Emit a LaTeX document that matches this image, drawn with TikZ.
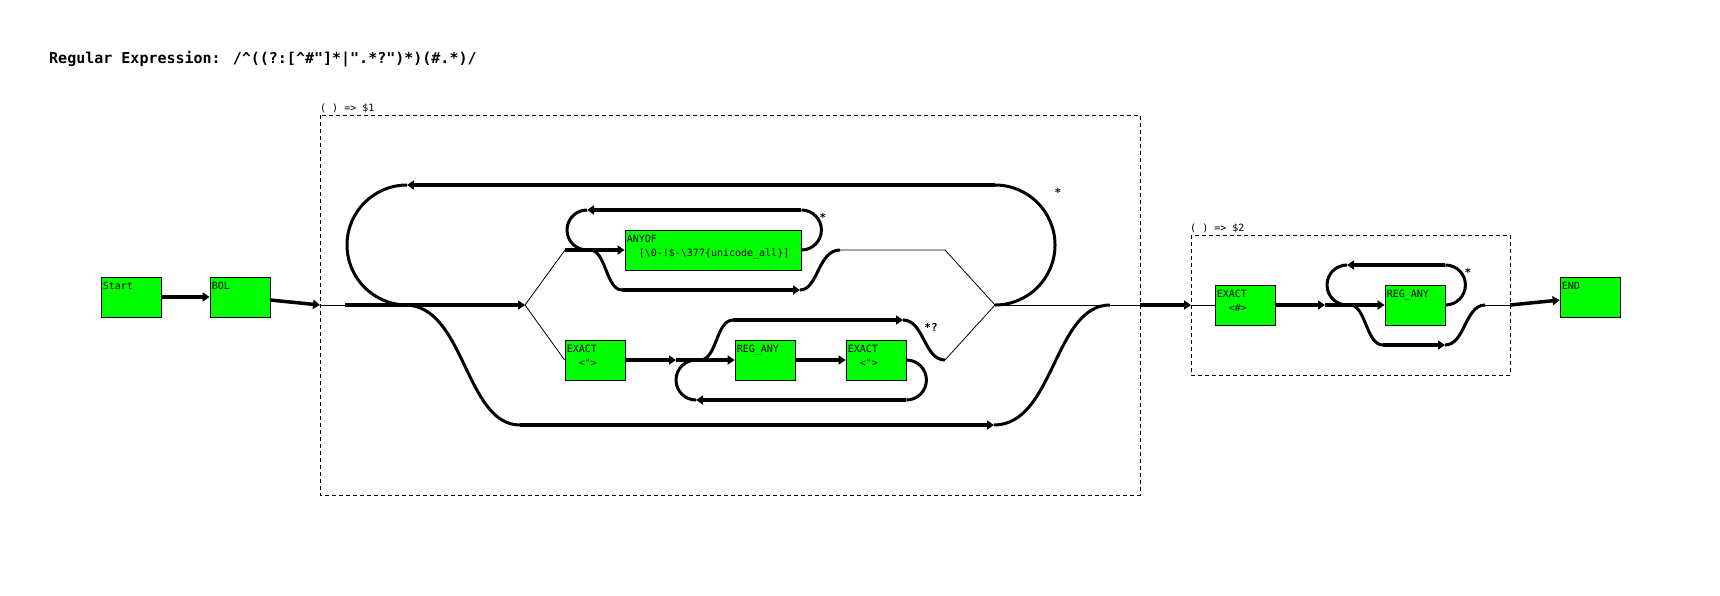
\documentclass[tikz,border=0pt]{standalone}
\usepackage{fontspec}
\newfontfamily\rxmono{DejaVu Sans Mono}
\usepackage{tikz}
\usetikzlibrary{arrows.meta}
\definecolor{rxgreen}{RGB}{0,255,0}

\begin{document}
\begin{tikzpicture}[
    x=1pt, y=1pt,
    >={Triangle[length=7pt,width=9pt]},
    rxbox/.style={draw, fill=rxgreen, line width=0.8pt, minimum width=60pt, minimum height=40pt, inner sep=0pt},
    rxtext/.style={anchor=north west, inner sep=0pt, align=left, xshift=2pt, yshift=-5.5pt, font=\rxmono\fontsize{10}{14}\selectfont},
    thickedge/.style={line width=3.5pt},
    curveedge/.style={line width=3pt},
    thinedge/.style={line width=0.8pt},
    groupbox/.style={draw, dash pattern=on 4pt off 3pt, line width=0.8pt},
    grouplabel/.style={anchor=base west, inner sep=0pt, font=\rxmono\fontsize{10}{12}\selectfont},
    quant/.style={inner sep=0pt, font=\rxmono\bfseries\fontsize{11}{12}\selectfont},
]
    \useasboundingbox (0,0) rectangle (1720,-595);
    \node[anchor=base west, inner sep=0pt, font=\rxmono\bfseries\fontsize{15}{18}\selectfont] (title) at (49,-63)
        {Regular Expression: /\textasciicircum((?:[\textasciicircum\#"]*|".*?")*)(\#.*)/};

    % capture groups
    \draw[groupbox] (320,-115) rectangle (1140,-495);
    \node[grouplabel] (g1lab) at (320,-111) {( ) => \$1};
    \draw[groupbox] (1191,-235) rectangle (1510,-375);
    \node[grouplabel] (g2lab) at (1190,-231) {( ) => \$2};

    % nodes
    \node[rxbox, label={[rxtext]north west:Start}] (start) at (131,-297) {};
    \node[rxbox, label={[rxtext]north west:BOL}] (bol) at (240,-297) {};
    \node[rxbox, minimum width=176pt, label={[rxtext]north west:{ANYOF\\\hspace*{12pt}[\textbackslash 0-!\$-\textbackslash 377\{unicode\_all\}]}}] (anyof) at (713,-250) {};
    \node[rxbox, label={[rxtext]north west:{EXACT\\\hspace*{12pt}<">}}] (exact1) at (595,-360) {};
    \node[rxbox, label={[rxtext]north west:REG\_ANY}] (regany1) at (765,-360) {};
    \node[rxbox, label={[rxtext]north west:{EXACT\\\hspace*{12pt}<">}}] (exact2) at (876,-360) {};
    \node[rxbox, label={[rxtext]north west:{EXACT\\\hspace*{12pt}<\#>}}] (exact3) at (1245,-305) {};
    \node[rxbox, label={[rxtext]north west:REG\_ANY}] (regany2) at (1415,-305) {};
    \node[rxbox, label={[rxtext]north west:END}] (end) at (1590,-297) {};

    % junctions
    \coordinate (g1in) at (320,-305);
    \coordinate (g1a) at (345,-305);
    \coordinate (splitL) at (525,-305);
    \coordinate (splitR) at (995,-305);
    \coordinate (g1out) at (1140,-305);
    \coordinate (g2in) at (1191,-305);
    \coordinate (g2out) at (1510,-305);
    \coordinate (bigTR) at (995,-185);
    \coordinate (bigTL) at (407,-185);
    \coordinate (skipA) at (405,-305);
    \coordinate (skipB) at (520,-425);
    \coordinate (skipC) at (994,-425);
    \coordinate (skipD) at (1110,-305);
    \coordinate (anyIn) at (565,-250);
    \coordinate (anyLoopR) at (801,-210);
    \coordinate (anyLoopL) at (587,-210);
    \coordinate (anySkipA) at (590,-250);
    \coordinate (anySkipB) at (622,-290);
    \coordinate (anySkipC) at (800,-290);
    \coordinate (anySkipD) at (840,-250);
    \coordinate (anyOut) at (945,-250);
    \coordinate (strIn) at (676,-360);
    \coordinate (strLoopR) at (906,-400);
    \coordinate (strLoopL) at (696,-400);
    \coordinate (strSkipA) at (700,-360);
    \coordinate (strSkipB) at (733,-320);
    \coordinate (strSkipC) at (903,-320);
    \coordinate (strSkipD) at (945,-360);
    \coordinate (hashIn) at (1325,-305);
    \coordinate (hashLoopR) at (1445,-265);
    \coordinate (hashLoopL) at (1347,-265);
    \coordinate (hashSkipA) at (1350,-305);
    \coordinate (hashSkipB) at (1383,-345);
    \coordinate (hashSkipC) at (1445,-345);
    \coordinate (hashSkipD) at (1485,-305);

    % main line
    \draw[thickedge,->] (start) -- (bol);
    \draw[thickedge,->] (bol) -- (g1in);
    \draw[thinedge] (g1in) -- (g1a);
    \draw[thickedge,->] (g1a) -- (splitL);
    \draw[thinedge] (splitR) -- (g1out);
    \draw[thickedge,->] (g1out) -- (g2in);

    % outer loop and skip
    \draw[curveedge] (splitR) arc[start angle=-90, end angle=90, radius=60pt];
    \draw[thickedge,->] (bigTR) -- (bigTL);
    \draw[curveedge] (bigTL) arc[start angle=90, end angle=270, radius=60pt];
    \draw[curveedge] (skipA) .. controls +(60,0) and +(-55,0) .. (skipB);
    \draw[thickedge,->] (skipB) -- (skipC);
    \draw[curveedge] (skipC) .. controls +(60,0) and +(-56,0) .. (skipD);

    % upper branch
    \draw[thinedge] (splitL) -- (anyIn);
    \draw[thickedge,->] (anyIn) -- (anyof);
    \draw[curveedge] (anyof.east) arc[start angle=-90, end angle=90, radius=20pt];
    \draw[thickedge,->] (anyLoopR) -- (anyLoopL);
    \draw[curveedge] (anyLoopL) arc[start angle=90, end angle=270, radius=20pt];
    \draw[curveedge] (anySkipA) .. controls +(16,0) and +(-16,0) .. (anySkipB);
    \draw[thickedge,->] (anySkipB) -- (anySkipC);
    \draw[curveedge] (anySkipC) .. controls +(18,0) and +(-22,0) .. (anySkipD);
    \draw[thinedge] (anySkipD) -- (anyOut) -- (splitR);

    % lower branch
    \draw[thinedge] (splitL) -- (exact1.west);
    \draw[thickedge,->] (exact1) -- (strIn);
    \draw[thickedge,->] (strIn) -- (regany1);
    \draw[thickedge,->] (regany1) -- (exact2);
    \draw[curveedge] (exact2.east) arc[start angle=90, end angle=-90, radius=20pt];
    \draw[thickedge,->] (strLoopR) -- (strLoopL);
    \draw[curveedge] (strLoopL) arc[start angle=270, end angle=90, radius=20pt];
    \draw[curveedge] (strSkipA) .. controls +(17,0) and +(-17,0) .. (strSkipB);
    \draw[thickedge,->] (strSkipB) -- (strSkipC);
    \draw[curveedge] (strSkipC) .. controls +(21,0) and +(-21,0) .. (strSkipD);
    \draw[thinedge] (strSkipD) -- (splitR);

    % second group
    \draw[thinedge] (g2in) -- (exact3);
    \draw[thickedge,->] (exact3) -- (hashIn);
    \draw[thickedge,->] (hashIn) -- (regany2);
    \draw[curveedge] (regany2.east) arc[start angle=-90, end angle=90, radius=20pt];
    \draw[thickedge,->] (hashLoopR) -- (hashLoopL);
    \draw[curveedge] (hashLoopL) arc[start angle=90, end angle=270, radius=20pt];
    \draw[curveedge] (hashSkipA) .. controls +(16,0) and +(-17,0) .. (hashSkipB);
    \draw[thickedge,->] (hashSkipB) -- (hashSkipC);
    \draw[curveedge] (hashSkipC) .. controls +(20,0) and +(-20,0) .. (hashSkipD);
    \draw[thinedge] (hashSkipD) -- (g2out);
    \draw[thickedge,->] (g2out) -- (end);

    % quantifiers
    \node[quant] (q1) at (1058,-192) {*};
    \node[quant] (q2) at (823,-217) {*};
    \node[quant] (q3) at (931,-327) {*?};
    \node[quant] (q4) at (1468,-272) {*};
\end{tikzpicture}
\end{document}
